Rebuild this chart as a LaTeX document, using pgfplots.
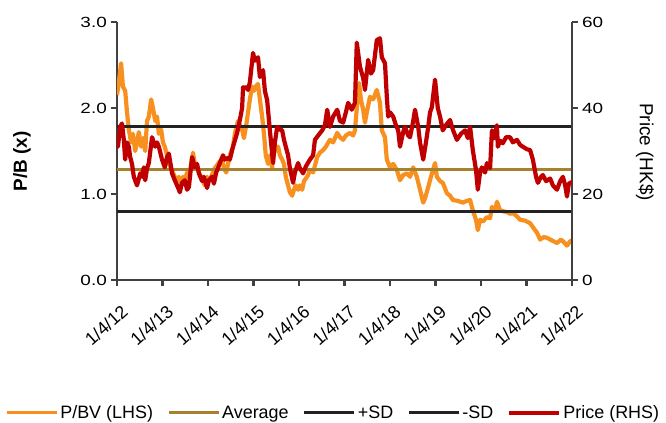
\documentclass[border=0pt]{standalone}
\usepackage{pgfplots}
\pgfplotsset{compat=1.18}
\usepackage{pgfplotstable}
\usepackage{fontspec}
\setmainfont{Liberation Sans}
\definecolor{pbv}{HTML}{F7901E}
\definecolor{avg}{HTML}{A8812F}
\definecolor{sd}{HTML}{222222}
\definecolor{price}{HTML}{C00000}
\definecolor{axc}{HTML}{404040}

\pgfplotstableread{
x y
0.00 2.15
0.04 2.30
0.09 2.52
0.13 2.25
0.18 2.20
0.22 1.95
0.26 1.75
0.31 1.60
0.35 1.70
0.40 1.50
0.44 1.60
0.48 1.72
0.53 1.55
0.57 1.65
0.62 1.50
0.66 1.85
0.70 1.90
0.75 2.10
0.79 2.00
0.84 1.85
0.88 1.90
0.92 1.70
0.97 1.75
1.01 1.60
1.05 1.55
1.10 1.45
1.14 1.35
1.19 1.30
1.23 1.25
1.27 1.20
1.32 1.15
1.36 1.20
1.41 1.10
1.45 1.20
1.49 1.15
1.54 1.25
1.58 1.20
1.63 1.35
1.67 1.48
1.71 1.35
1.76 1.30
1.80 1.25
1.85 1.20
1.89 1.15
1.93 1.10
1.98 1.20
2.02 1.15
2.07 1.20
2.11 1.25
2.15 1.30
2.22 1.35
2.26 1.38
2.31 1.40
2.35 1.30
2.40 1.25
2.44 1.35
2.48 1.45
2.55 1.55
2.59 1.70
2.66 1.85
2.70 1.80
2.75 1.75
2.79 1.65
2.84 1.80
2.88 1.95
2.92 2.10
2.97 2.25
3.01 2.20
3.05 2.25
3.10 2.28
3.14 2.10
3.19 1.90
3.23 1.70
3.27 1.45
3.32 1.35
3.36 1.45
3.41 1.30
3.45 1.60
3.49 1.50
3.54 1.55
3.58 1.45
3.63 1.40
3.67 1.35
3.71 1.20
3.76 1.10
3.80 1.02
3.85 0.98
3.89 1.05
3.93 1.10
3.98 1.05
4.02 1.10
4.07 1.05
4.11 1.15
4.15 1.18
4.20 1.22
4.24 1.28
4.31 1.25
4.40 1.43
4.46 1.48
4.53 1.51
4.59 1.55
4.68 1.63
4.75 1.60
4.84 1.71
4.90 1.66
4.97 1.63
5.03 1.68
5.12 1.71
5.19 1.68
5.23 1.74
5.27 2.00
5.32 2.29
5.36 2.10
5.41 1.98
5.45 1.83
5.49 1.95
5.56 2.13
5.63 2.10
5.71 2.21
5.78 2.06
5.82 1.74
5.89 1.66
5.93 1.40
6.00 1.31
6.07 1.35
6.15 1.28
6.22 1.16
6.29 1.22
6.37 1.24
6.44 1.20
6.51 1.31
6.59 1.20
6.66 1.05
6.73 0.90
6.77 0.95
6.84 1.08
6.90 1.20
6.99 1.36
7.03 1.20
7.10 1.15
7.16 1.13
7.25 1.01
7.32 0.98
7.38 0.93
7.49 0.92
7.60 0.90
7.69 0.92
7.76 0.93
7.82 0.81
7.89 0.70
7.93 0.58
7.98 0.70
8.04 0.68
8.13 0.73
8.20 0.72
8.24 0.85
8.31 0.80
8.35 0.91
8.42 0.81
8.48 0.80
8.57 0.79
8.64 0.77
8.70 0.78
8.79 0.74
8.86 0.70
8.97 0.69
9.08 0.66
9.16 0.60
9.23 0.55
9.30 0.47
9.38 0.50
9.45 0.49
9.56 0.46
9.67 0.43
9.76 0.47
9.82 0.44
9.89 0.40
9.96 0.45
10.00 0.46
}\pbvdata

\pgfplotstableread{
x y
0.00 32.6
0.02 31.0
0.07 35.6
0.11 36.4
0.15 32.6
0.18 28.0
0.22 32.0
0.26 31.0
0.29 28.6
0.33 27.0
0.37 24.0
0.44 22.0
0.51 24.8
0.55 24.0
0.59 26.2
0.62 23.2
0.66 26.0
0.70 27.2
0.77 33.2
0.84 31.0
0.88 32.0
0.92 31.0
0.99 28.0
1.05 26.2
1.10 28.6
1.14 29.4
1.21 24.8
1.27 23.2
1.32 22.0
1.36 21.0
1.38 20.4
1.43 22.6
1.49 23.2
1.54 21.0
1.58 21.6
1.65 28.6
1.71 26.2
1.76 27.0
1.80 24.8
1.87 23.0
1.91 24.0
1.98 21.4
2.02 23.2
2.09 24.0
2.13 22.4
2.18 25.0
2.22 26.0
2.26 27.2
2.33 29.0
2.37 28.0
2.44 28.4
2.48 28.0
2.55 31.0
2.64 34.2
2.70 37.2
2.75 40.0
2.77 44.8
2.84 44.8
2.88 44.2
2.92 46.0
2.99 52.8
3.03 51.0
3.10 51.8
3.14 47.2
3.21 48.8
3.25 44.0
3.30 41.8
3.36 34.8
3.43 27.2
3.47 32.0
3.52 35.6
3.58 35.0
3.63 34.8
3.67 32.6
3.71 31.0
3.76 29.0
3.80 26.0
3.87 22.6
3.91 25.0
3.98 27.2
4.02 26.0
4.09 24.8
4.15 26.4
4.24 28.0
4.31 29.0
4.35 32.6
4.42 33.6
4.51 34.8
4.57 36.0
4.62 39.6
4.68 35.6
4.75 38.0
4.84 39.6
4.90 37.0
4.97 36.6
5.03 39.0
5.08 41.2
5.16 39.6
5.23 41.2
5.27 55.2
5.34 49.6
5.41 47.0
5.45 44.2
5.52 51.2
5.58 48.0
5.63 48.8
5.71 55.8
5.78 56.2
5.82 51.8
5.89 50.4
5.93 42.6
5.96 38.0
6.00 39.0
6.07 38.0
6.13 36.0
6.18 34.8
6.22 31.0
6.29 34.4
6.33 35.6
6.40 33.6
6.44 33.2
6.51 37.0
6.55 39.6
6.62 35.6
6.66 32.0
6.73 28.0
6.79 32.0
6.84 35.6
6.88 39.0
6.92 40.2
6.99 46.6
7.05 40.0
7.10 38.0
7.16 34.8
7.23 36.0
7.32 37.2
7.38 35.0
7.47 32.6
7.56 34.0
7.65 34.8
7.71 33.0
7.76 35.6
7.82 30.2
7.89 25.6
7.93 21.0
7.98 25.0
8.02 26.2
8.09 25.0
8.13 27.2
8.20 26.0
8.24 34.8
8.29 33.0
8.35 36.0
8.37 31.0
8.42 32.4
8.48 31.8
8.55 33.2
8.64 33.2
8.70 32.0
8.79 32.6
8.86 31.4
8.92 31.0
9.01 30.4
9.08 30.2
9.14 28.0
9.21 24.0
9.25 22.6
9.32 24.0
9.36 24.4
9.43 23.0
9.52 23.6
9.58 22.0
9.67 21.0
9.74 23.0
9.80 24.0
9.85 22.0
9.89 19.4
9.93 22.4
10.00 22.8
}\pricedata

\pgfplotsset{
  common/.style={
    scale only axis, width=455bp, height=258bp,
    xmin=0, xmax=10,
    axis line style={axc, line width=2.4bp},
    every tick/.style={axc, line width=2.2bp},
    major tick length=6bp,
    tick align=outside,
    font=\fontsize{19}{22}\selectfont,
    /pgf/number format/assume math mode=true,
  },
}

\begin{document}
\begin{tikzpicture}
\useasboundingbox (-117bp,-143bp) rectangle (549bp,280bp);
\begin{axis}[common,
  axis y line*=left, axis x line*=bottom,
  ymin=0, ymax=3, ytick={0,1,2,3},
  y tick label style={/pgf/number format/fixed, /pgf/number format/fixed zerofill, /pgf/number format/precision=1, yscale=0.78, inner sep=4bp},
  xtick={0,1,...,10},
  xticklabels={1/4/12,1/4/13,1/4/14,1/4/15,1/4/16,1/4/17,1/4/18,1/4/19,1/4/20,1/4/21,1/4/22},
  x tick label style={rotate=42, anchor=north east, font=\fontsize{18}{20}\selectfont, xshift=-6bp, yshift=-12bp},
  ylabel={\bfseries P/B (x)},
  ylabel style={at={(axis description cs:-0.209,0.46)}, anchor=center, rotate=0},
]
\addplot[pbv, line width=4.2bp, line join=round] table[x=x,y=y] {\pbvdata};
\addplot[avg, line width=3bp] coordinates {(0,1.28) (10,1.28)};
\addplot[sd, line width=3bp] coordinates {(0,1.78) (10,1.78)};
\addplot[sd, line width=3bp] coordinates {(0,0.80) (10,0.80)};
\end{axis}
\begin{axis}[common,
  axis y line*=right, axis x line=none,
  ymin=0, ymax=60, ytick={0,20,40,60},
  y tick label style={yscale=0.78, inner sep=4bp},
  ylabel={Price (HK\$)},
  ylabel style={at={(axis description cs:1.16,0.496)}, anchor=center, rotate=180},
  legend style={at={(axis description cs:0.475,-0.515)}, anchor=center, draw=none, fill=none,
    font=\fontsize{18}{20}\selectfont, legend columns=5,
    /tikz/every even column/.append style={column sep=12bp},
    cells={inner xsep=3bp}},
  legend image code/.code={\draw[#1] (0bp,0bp) -- (50bp,0bp);},
]
\addlegendimage{pbv, line width=3.2bp}
\addlegendentry{P/BV (LHS)}
\addlegendimage{avg, line width=3.2bp}
\addlegendentry{Average}
\addlegendimage{sd, line width=3.2bp}
\addlegendentry{+SD}
\addlegendimage{sd, line width=3.2bp}
\addlegendentry{-SD}
\addplot[price, line width=4.2bp, line join=round] table[x=x,y=y] {\pricedata};
\addlegendentry{Price (RHS)}
\end{axis}
\end{tikzpicture}
\end{document}
